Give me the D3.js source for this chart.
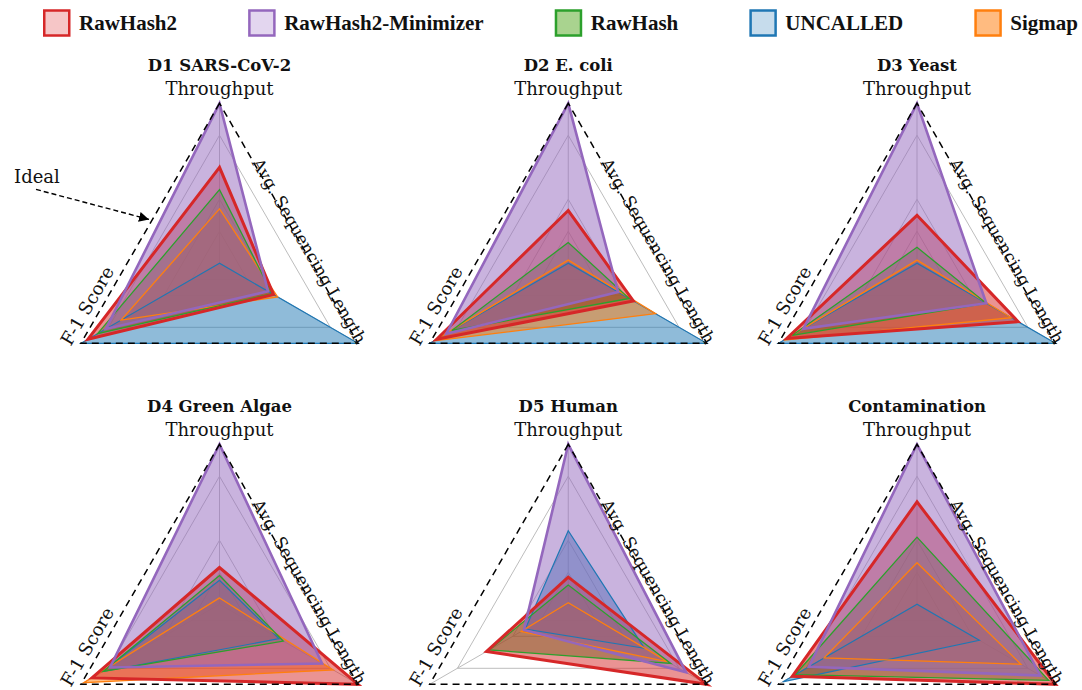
<!DOCTYPE html>
<html>
<head>
<meta charset="utf-8">
<script src="https://d3js.org/d3.v7.min.js"></script>
<style>
  body { margin: 0; background: #fff; }
  text { font-family: "DejaVu Serif", serif; }
</style>
</head>
<body>
<svg id="chart" width="1082" height="690"></svg>
<script>
const methods = ["RawHash2", "RawHash2-Minimizer", "RawHash", "UNCALLED", "Sigmap"];
const colors = ["#d62728", "#9467bd", "#2ca02c", "#1f77b4", "#ff7f0e"];
const legendFills = ["#f6c6c7", "#e3d6ef", "#a9d38f", "#c6dcec", "#ffbb80"];
const axisNames = ["Throughput", "F-1 Score", "Avg. Sequencing Length"];
const datasets = ["D1 SARS-CoV-2", "D2 E. coli", "D3 Yeast", "D4 Green Algae", "D5 Human", "Contamination"];
const rings = [0.2, 0.4, 0.8];

// normalized [throughput, F-1 score, avg. sequencing length], rows follow `methods`
const sarsCov2 = [[0.60, 0.95, 0.39], [1.00, 0.82, 0.35], [0.46, 0.88, 0.38], [0.00, 1.00, 1.00], [0.34, 0.71, 0.42]];
const eColi = [[0.33, 0.95, 0.47], [1.00, 0.88, 0.36], [0.13, 0.84, 0.44], [0.00, 1.00, 1.00], [0.02, 0.97, 0.63]];
const yeast = [[0.30, 0.94, 0.73], [1.00, 0.82, 0.50], [0.10, 0.90, 0.50], [0.00, 1.00, 1.00], [0.02, 0.96, 0.68]];
const greenAlgae = [[0.23, 0.92, 1.00], [1.00, 0.79, 0.74], [0.18, 0.84, 0.46], [0.15, 0.84, 0.43], [0.04, 0.98, 0.82]];
const human = [[0.17, 0.59, 1.00], [1.00, 0.32, 0.85], [0.12, 0.57, 0.74], [0.46, 0.31, 0.55], [0.01, 0.34, 0.72]];
const contamination = [[0.64, 0.90, 1.00], [1.00, 0.78, 0.89], [0.42, 0.88, 0.95], [0.00, 0.97, 0.45], [0.26, 0.67, 0.75]];
const panelData = [sarsCov2, eColi, yeast, greenAlgae, human, contamination];

const svg = d3.select("#chart");
const R = 160;
const r = d3.scaleLinear().domain([0, 1]).range([0, R]);
// throughput at top, avg. seq. length lower right, F-1 lower left
const angles = [0, 4 * Math.PI / 3, 2 * Math.PI / 3];
const colX = d3.scalePoint().domain([0, 1, 2]).range([219.5, 917]);
const rowY = d3.scalePoint().domain([0, 1]).range([263.3, 604.3]);

const radar = d3.lineRadial()
  .angle((v, i) => angles[i])
  .radius(v => r(v))
  .curve(d3.curveLinearClosed);

const pt = (i, v) => [Math.sin(angles[i]) * r(v), -Math.cos(angles[i]) * r(v)];

const fillOrder = [3, 4, 2, 0, 1];
const widths = [3, 2.6, 1.3, 1.2, 1.3];

panelData.forEach((rows, p) => {
  const cx = colX(p % 3), cy = rowY(Math.floor(p / 3));
  const g = svg.append("g").attr("transform", `translate(${cx},${cy})`);

  // grid rings + spokes
  g.selectAll(".ring").data(rings).enter().append("path")
    .attr("d", v => radar([v, v, v]))
    .attr("fill", "none").attr("stroke", "#bdbdbd").attr("stroke-width", 1);
  g.selectAll(".spoke").data(angles).enter().append("line")
    .attr("x1", 0).attr("y1", 0)
    .attr("x2", (a, i) => pt(i, 1)[0]).attr("y2", (a, i) => pt(i, 1)[1])
    .attr("stroke", "#bdbdbd").attr("stroke-width", 1);

  // fills then outlines
  g.selectAll(".area").data(fillOrder).enter().append("path")
    .attr("d", m => radar(rows[m]))
    .attr("fill", m => colors[m]).attr("fill-opacity", 0.5).attr("stroke", "none");
  g.selectAll(".edge").data(fillOrder).enter().append("path")
    .attr("d", m => radar(rows[m]))
    .attr("fill", "none").attr("stroke", m => colors[m])
    .attr("stroke-width", m => widths[m]).attr("stroke-linejoin", "miter");

  // ideal frame
  g.append("path").attr("d", radar([1, 1, 1]))
    .attr("fill", "none").attr("stroke", "#000").attr("stroke-width", 1.5)
    .attr("stroke-dasharray", "7,5");

  const top = pt(0, 1), fl = pt(1, 1), as = pt(2, 1);
  g.append("text").attr("x", 0).attr("y", top[1] - 32)
    .attr("text-anchor", "middle").attr("font-size", 16.5).attr("font-weight", "bold")
    .attr("fill", "#111").text(datasets[p]);
  g.append("text").attr("x", 0).attr("y", top[1] - 8)
    .attr("text-anchor", "middle").attr("font-size", 18).attr("fill", "#111")
    .text(axisNames[0]);

  const fx = fl[0] - 8 * 0.5 - 7 * 0.866, fy = fl[1] + 8 * 0.866 - 7 * 0.5;
  g.append("text").attr("transform", `translate(${fx},${fy}) rotate(-60)`)
    .attr("font-size", 18).attr("fill", "#111").text(axisNames[1]);
  const ax = as[0] + 1 * 0.5 - 2 * 0.866, ay = as[1] + 1 * 0.866 + 2 * 0.5;
  g.append("text").attr("transform", `translate(${ax},${ay}) rotate(60)`)
    .attr("text-anchor", "end").attr("font-size", 17).attr("fill", "#111")
    .text(axisNames[2]);

  if (p === 0) {
    // "Ideal" annotation pointing at the dashed frame
    const t = 0.49;
    const tipX = top[0] + (fl[0] - top[0]) * t - 3 * 0.866;
    const tipY = top[1] + (fl[1] - top[1]) * t - 3 * 0.5;
    svg.append("defs").append("marker")
      .attr("id", "head").attr("viewBox", "0 0 10 10")
      .attr("refX", 10).attr("refY", 5)
      .attr("markerWidth", 10).attr("markerHeight", 10)
      .attr("markerUnits", "userSpaceOnUse")
      .attr("orient", "auto")
      .append("path").attr("d", "M0,0L10,5L0,10Z").attr("fill", "#000");
    g.append("line")
      .attr("x1", tipX - 113).attr("y1", tipY - 30)
      .attr("x2", tipX).attr("y2", tipY)
      .attr("stroke", "#000").attr("stroke-width", 1.4)
      .attr("stroke-dasharray", "5,3").attr("marker-end", "url(#head)");
    g.append("text").attr("x", tipX - 135).attr("y", tipY - 36)
      .attr("font-size", 18).attr("fill", "#111").text("Ideal");
  }
});

// legend, spread across the top
const legend = svg.append("g");
const items = legend.selectAll("g").data(methods).enter().append("g");
items.append("rect")
  .attr("x", 1.25).attr("y", 10.5).attr("width", 25).attr("height", 25)
  .attr("fill", (d, i) => legendFills[i]).attr("stroke", (d, i) => colors[i])
  .attr("stroke-width", 2.5);
items.append("text")
  .attr("x", 36).attr("y", 30)
  .style("font-family", "'Liberation Serif', serif")
  .attr("font-size", 21).attr("font-weight", "bold").attr("fill", "#111")
  .text(d => d);
const textW = [];
items.select("text").each(function () { textW.push(this.getComputedTextLength()); });
const left = 43, right = 1078;
const used = d3.sum(textW, w => w + 36);
const gap = (right - left - used) / (methods.length - 1);
let xPos = left;
items.attr("transform", (d, i) => {
  const x = xPos;
  xPos += 36 + textW[i] + gap;
  return `translate(${x},0)`;
});
</script>
</body>
</html>
